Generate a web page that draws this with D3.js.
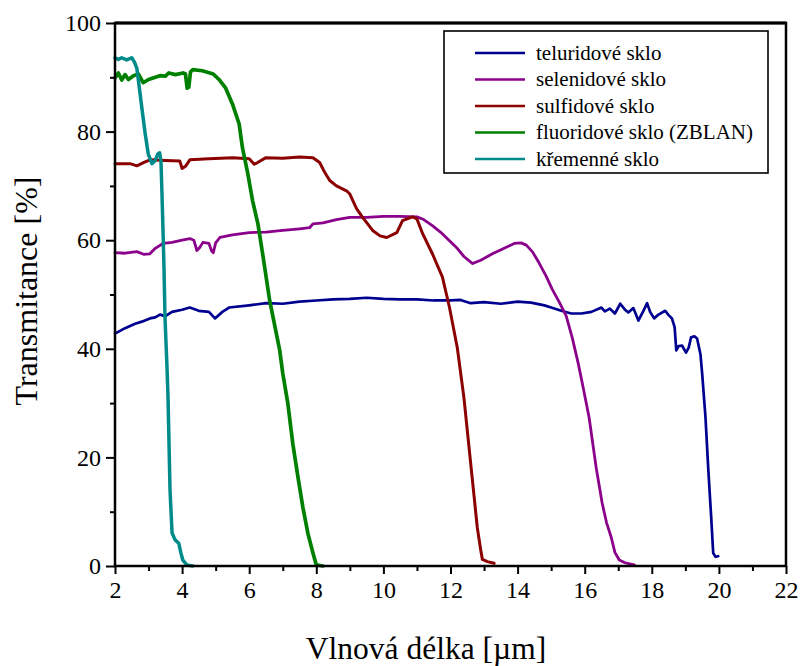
<!DOCTYPE html>
<html>
<head>
<meta charset="utf-8">
<script src="https://cdn.jsdelivr.net/npm/d3@7"></script>
<style>
  html, body { margin: 0; padding: 0; background: #fff; }
  svg { display: block; }
</style>
</head>
<body>
<svg id="chart" width="801" height="666"></svg>
<script>
// ---- data ----
const seriesNames = ["teluridové sklo", "selenidové sklo", "sulfidové sklo", "fluoridové sklo (ZBLAN)", "křemenné sklo"];
const seriesColors = ["#000090", "#8B008B", "#8B0000", "#008000", "#008B8B"];
const xTicks = [2, 4, 6, 8, 10, 12, 14, 16, 18, 20, 22];
const xMinorTicks = [3, 5, 7, 9, 11, 13, 15, 17, 19, 21];
const yTicks = [0, 20, 40, 60, 80, 100];
const yMinorTicks = [10, 30, 50, 70, 90];

const telluride = [
  [2.0,42.8],[2.3,43.8],[2.6,44.6],[2.8,45.0],[3.04,45.6],[3.2,45.8],[3.34,46.3],[3.5,46.0],[3.7,46.8],
  [4.0,47.2],[4.23,47.6],[4.5,47.0],[4.8,46.8],[4.98,45.6],[5.2,46.8],[5.4,47.6],[6.0,48.0],[6.5,48.4],
  [7.0,48.3],[7.5,48.7],[8.0,48.9],[8.5,49.1],[9.0,49.2],[9.5,49.4],[10.0,49.2],[10.5,49.1],[11.0,49.1],
  [11.5,48.9],[12.0,48.9],[12.3,49.0],[12.6,48.4],[13.0,48.6],[13.5,48.3],[14.0,48.7],[14.4,48.5],
  [14.8,48.0],[15.0,47.6],[15.3,47.0],[15.6,46.5],[15.9,46.5],[16.2,46.8],[16.5,47.6],[16.6,46.9],
  [16.75,47.4],[16.9,46.5],[17.06,48.3],[17.2,47.2],[17.3,46.7],[17.45,47.5],[17.6,45.2],[17.75,47.0],
  [17.86,48.4],[17.95,46.8],[18.07,45.6],[18.2,46.3],[18.4,47.0],[18.5,46.2],[18.6,45.6],[18.68,44.0],
  [18.73,39.7],[18.8,40.5],[18.9,40.6],[19.02,39.3],[19.1,40.2],[19.17,42.1],[19.27,42.3],[19.35,41.9],
  [19.45,39.0],[19.5,35.5],[19.6,27.4],[19.68,18.2],[19.77,9.0],[19.83,2.4],[19.9,1.7],[19.98,1.8]
];
const selenide = [
  [2.0,57.7],[2.3,57.6],[2.65,57.9],[2.85,57.4],[3.04,57.5],[3.2,58.5],[3.43,59.4],[3.7,59.6],[4.0,60.0],
  [4.23,60.3],[4.35,60.0],[4.44,58.1],[4.52,58.6],[4.62,59.6],[4.8,59.4],[4.88,58.0],[4.93,57.7],[5.0,59.5],
  [5.13,60.5],[5.5,61.0],[6.0,61.4],[6.5,61.5],[7.0,61.8],[7.5,62.1],[7.8,62.3],[7.9,63.0],[8.2,63.2],
  [8.6,63.8],[9.0,64.2],[9.5,64.2],[10.0,64.4],[10.48,64.4],[11.0,64.3],[11.2,63.8],[11.46,62.7],
  [11.7,61.5],[11.97,59.9],[12.2,58.5],[12.4,57.0],[12.66,55.7],[12.9,56.3],[13.25,57.5],[13.6,58.5],
  [13.9,59.4],[14.1,59.5],[14.26,59.1],[14.45,57.8],[14.65,55.7],[14.85,53.4],[15.03,51.0],[15.25,48.5],
  [15.45,46.0],[15.63,42.0],[15.8,37.5],[15.93,33.6],[16.13,27.4],[16.34,18.2],[16.52,11.6],[16.65,8.0],
  [16.79,5.3],[16.9,2.5],[17.03,1.1],[17.2,0.6],[17.48,0.2]
];
const sulfide = [
  [2.0,74.1],[2.45,74.1],[2.65,73.7],[2.85,74.3],[3.04,74.8],[3.5,74.7],[3.93,74.6],[4.0,73.2],[4.1,73.6],
  [4.23,74.8],[4.8,75.0],[5.5,75.2],[6.0,75.0],[6.15,74.0],[6.25,74.3],[6.5,75.2],[7.0,75.1],[7.5,75.3],
  [7.9,75.2],[8.1,74.3],[8.25,72.5],[8.4,71.0],[8.6,70.0],[8.9,69.1],[9.0,68.5],[9.09,67.3],[9.2,65.8],
  [9.38,64.2],[9.68,61.8],[9.9,60.8],[10.1,60.5],[10.4,61.4],[10.57,63.6],[10.87,64.3],[11.0,63.9],
  [11.17,61.2],[11.46,57.5],[11.76,53.2],[11.97,47.6],[12.2,40.3],[12.4,31.0],[12.55,22.0],[12.7,13.0],
  [12.8,7.0],[12.9,3.0],[12.95,1.2],[13.1,0.8],[13.3,0.5]
];
const fluoride = [
  [2.0,89.9],[2.1,90.8],[2.2,89.5],[2.3,90.5],[2.4,89.6],[2.55,90.3],[2.7,90.6],[2.84,89.0],[3.0,89.6],
  [3.34,90.3],[3.5,90.2],[3.6,90.8],[3.8,90.5],[4.03,90.8],[4.1,90.6],[4.15,88.0],[4.2,88.2],[4.25,91.0],
  [4.32,91.4],[4.6,91.2],[4.93,90.6],[5.1,89.6],[5.3,88.0],[5.5,85.1],[5.7,81.4],[5.8,77.0],[5.96,72.2],
  [6.1,67.3],[6.26,63.0],[6.4,57.5],[6.61,48.9],[6.91,39.7],[7.0,35.5],[7.15,30.0],[7.3,22.5],[7.45,16.5],
  [7.6,10.8],[7.75,6.0],[7.9,2.4],[8.0,0.2],[8.2,0.0]
];
const quartz = [
  [2.0,93.6],[2.1,93.3],[2.2,93.6],[2.35,93.2],[2.5,93.6],[2.58,92.8],[2.65,91.7],[2.7,89.3],[2.8,84.4],
  [2.9,79.6],[2.99,75.9],[3.1,74.1],[3.19,74.6],[3.28,75.9],[3.33,76.1],[3.37,74.6],[3.4,68.6],[3.43,62.0],
  [3.46,55.0],[3.49,45.8],[3.55,36.6],[3.58,31.1],[3.61,22.5],[3.64,14.0],[3.7,6.1],[3.79,4.8],[3.9,4.2],
  [3.96,2.5],[4.02,1.1],[4.14,0.2],[4.32,0.0]
];
const seriesData = [telluride, selenide, sulfide, fluoride, quartz];
const seriesWidths = [2.7, 2.8, 3.0, 3.7, 3.5];

const FONT = "'Liberation Serif', 'Times New Roman', Times, serif";

// ---- layout ----
const svg = d3.select("#chart");
const L = 115, R = 786, T = 23, B = 566;
const x = d3.scaleLinear().domain([2, 22]).range([L, R]);
const y = d3.scaleLinear().domain([0, 100]).range([B, T]);

// curves
const line = d3.line().x(d => x(d[0])).y(d => y(d[1])).curve(d3.curveLinear);
const g = svg.append("g");
seriesData.forEach((data, i) => {
  g.append("path")
    .datum(data)
    .attr("d", line)
    .attr("fill", "none")
    .attr("stroke", seriesColors[i])
    .attr("stroke-width", seriesWidths[i])
    .attr("stroke-linejoin", "round")
    .attr("stroke-linecap", "round");
});

// axes
const xAxis = svg.append("g").attr("transform", `translate(0,${B})`)
  .call(d3.axisBottom(x).tickValues(xTicks).tickSize(8).tickPadding(7).tickFormat(d3.format("d")));
const xMinor = svg.append("g").attr("transform", `translate(0,${B})`)
  .call(d3.axisBottom(x).tickValues(xMinorTicks).tickSize(5).tickFormat(""));
const yAxis = svg.append("g").attr("transform", `translate(${L},0)`)
  .call(d3.axisLeft(y).tickValues(yTicks).tickSize(9).tickPadding(5).tickFormat(d3.format("d")));
const yMinor = svg.append("g").attr("transform", `translate(${L},0)`)
  .call(d3.axisLeft(y).tickValues(yMinorTicks).tickSize(5).tickFormat(""));

[xAxis, xMinor, yAxis, yMinor].forEach(a => {
  a.attr("font-family", null).attr("font-size", null);
  a.select(".domain").remove();
  a.selectAll("line").attr("stroke", "#000").attr("stroke-width", 2);
  a.selectAll("text")
    .attr("font-family", FONT)
    .attr("font-size", 24)
    .attr("fill", "#000");
});

// frame
svg.append("rect")
  .attr("x", L).attr("y", T)
  .attr("width", R - L).attr("height", B - T)
  .attr("fill", "none").attr("stroke", "#000").attr("stroke-width", 2.5);
svg.append("line")
  .attr("x1", L).attr("x2", R).attr("y1", T).attr("y2", T)
  .attr("stroke", "#000").attr("stroke-width", 3.2);

// axis titles
svg.append("text")
  .attr("x", 426).attr("y", 659)
  .attr("text-anchor", "middle")
  .attr("font-family", FONT)
  .attr("font-size", 31.5)
  .attr("fill", "#000")
  .text("Vlnová délka [µm]");
svg.append("text")
  .attr("transform", `translate(37,291) rotate(-90)`)
  .attr("text-anchor", "middle")
  .attr("font-family", FONT)
  .attr("font-size", 32)
  .attr("fill", "#000")
  .text("Transmitance [%]");

// legend
const lg = svg.append("g");
lg.append("rect")
  .attr("x", 444).attr("y", 31).attr("width", 324).attr("height", 142)
  .attr("fill", "#fff").attr("stroke", "#000").attr("stroke-width", 1.6);
seriesNames.forEach((name, i) => {
  const yy = 53 + i * 26.5;
  lg.append("line")
    .attr("x1", 475).attr("x2", 525).attr("y1", yy).attr("y2", yy)
    .attr("stroke", seriesColors[i]).attr("stroke-width", 2.5);
  lg.append("text")
    .attr("x", 536).attr("y", yy).attr("dy", "0.32em")
    .attr("font-family", FONT)
    .attr("font-size", 21)
    .attr("fill", "#000")
    .text(name);
});
</script>
</body>
</html>
